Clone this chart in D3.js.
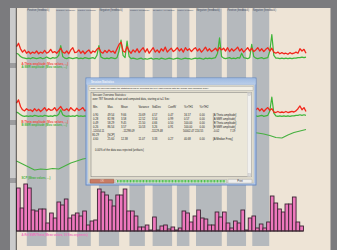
<!DOCTYPE html>
<html><head><meta charset="utf-8">
<script src="https://cdn.jsdelivr.net/npm/d3@7"></script>
<style>html,body{margin:0;padding:0;background:#7b7b7e;overflow:hidden}svg{display:block}</style>
</head><body><svg id="c" width="337" height="250"></svg>
<script>
// ---------- DATA ----------
const sessionSeconds = 787;
const bandStart = [28,107,165,224,307,370,436,488,572,641];
const bandEnd   = [82,144,202,279,349,423,470,558,624,687];
const bandLabel = ["Positive (feedback)","Negative (feedback)","Positive (feedback)","Negative (feedback)","Positive (feedback)","Negative (feedback)","Positive (feedback)","Negative (feedback)","Positive (feedback)","Negative (feedback)"];

const thetaA = [14,17,12,9,11,8,9.5,7.5,9,8, 10,7.5,9,8,10.5,8,9,11.5,8.5,9.5, 8,10,12.5,9,8,10,7.5,11,13,8.5, 9,11,8,10,7.5,9.5,11,8,10,9,
 11.5,13,9,8,10.5,8.5,11,9,10,8, 12,16,18,10,9,14,10,8,11,9, 12,8.5,11,13,9,12,8,10.5,13,9, 11,8.5,12,10,13.5,9,11,12.5,9.5,11,
 13,10,12,9,13,10.5,12,9.5,11.5,13, 10,12,9,11,13.5,10,12,9.5,11,12.5, 10,13,11,12.5,10,13,9.5,12,10,11.5, 13.5,10,12,9,11,13,10,12.5,9.5,11,
 13,10,12,9.5,11.5,13,10,12.5,9,8, 9,7.5,8.5,7.5,8,7,8.5,7.5,8,9, 8,12,10,11.5,8];
const smrA = [8,7,5,4,3.5,3,3.5,3,4,3.5, 3,3.5,4,3,3.5,4.5,3.5,3,4,3.5, 4,6,15,5,3.5,3,4,3.5,3,3.5, 4,3,3.5,3,4,3.5,3,3.5,4,3,
 6,15,4.5,3.5,3,3.5,3,4,3.5,3, 4,10,20,6,4,19,5,3,3.5,3, 2.5,3,3.5,2.5,3,2.5,3,3.5,2.5,3, 3,2.5,3.5,3,2.5,3,3.5,3,2.5,3,
 3.5,3,2.5,3,3.5,3,3,2.5,3,3.5, 3,3.5,3,2.5,3.5,3,3.5,3,3.5,4, 8,22,5,3.5,3,3.5,4,3,3.5,3, 4,3.5,8,4,3.5,3,4,16,5,3.5,
 3,3.5,4,3,3.5,4,10,25,6,3.5, 3.5,3,3.5,3,3.5,3,3.5,3,3.5,3.5, 4,4,4.5,4,4.5];
const thetaB = [15,18,12,9,8,10,8.5,9,7.5,10, 8,9.5,7.5,9,11,8,10,8.5,9,11, 8,10,12,9,8.5,10,8,11,9,8, 10.5,8.5,9.5,11,8,9.5,
 11,8,10,9, 11.5,13,9,8,10.5,8.5,11,9,10,8, 12,16,18,10,9,14,10,8,11,9, 12,8.5,11,13,9,12,8,10.5,13,9, 11,8.5,12,10,13.5,9,11,12.5,9.5,11,
 13,10,12,9,13,10.5,12,9.5,11.5,13, 10,12,9,11,13.5,10,12,9.5,11,12.5, 10,13,11,12.5,10,13,9.5,12,10,11.5, 13.5,10,12,9,11,13,10,12.5,9.5,
 9,10.5,8,10,7.5,9.5,11,8.5,10,7, 6.5,7.5,6.5,7,6.5,7.5,6.5,7,7.5,7, 8,10,12.5,9,11,7.5];
const smrB = [7,6,4.5,3.5,3,3.5,3,3.5,3,4, 3.5,3,3.5,3,4,3.5,3,3.5,3,4, 3.5,5,9,4.5,3.5,3,3.5,3,3.5,3, 4,3,3.5,3,3.5,3,
 3,3.5,4,3, 6,12,4.5,3.5,3,3.5,3,4,3.5,3, 4,8,16,6,4,15,5,3,3.5,3, 2.5,3,3.5,2.5,3,2.5,3,3.5,2.5,3, 3,2.5,3.5,3,2.5,3,3.5,3,2.5,3,
 3.5,3,2.5,3,3.5,3,3,2.5,3,3.5, 3,3.5,3,2.5,3.5,3,3.5,3,3.5,4, 8,18,5,3.5,3,3.5,4,3,3.5,3, 4,3.5,7,4,3.5,3,4,13,5,
 3.5,3,3.5,4,3,3.5,4,8,20.5,6, 3.5,3,3.5,3,3.5,3,3.5,3,3.5,3.5, 4,4,4.5,4,4.5,4];
const scp = [-11773,-11813,-11853,-11893,-11880,-11887,-11873,-11880,-11840,-11800,-11773,-11747,-11733,-11707,-11680,-11653,-11640,-11613,-11587,-11573,
 -11560,-11533,-11520,-11507,-11493,-11480,-11467,-11453,-11453,-11440,-11427,-11427,-11413,-11413,-11400,-11400,-11400,-11387,-11387,-11393,
 -11400,-11413,-11433,-11460,-11467,-11427,-11393,-11373,-11353];
const scpTicks = [-11400,-11600,-11800];
const relSmrTheta = [0.86,0.46,0.94,0.86,0.42,0.40,0.44,0.44,0.16,0.36, 0.26,0.58,0.52,0.64,0.26,0.32,0.36,0.30,0.40,0.12,
 0.20,0.22,0.84,0.78,0.72,0.62,0.50,0.72,0.72,0.84, 0.40,0.40,0.30,0.08,0.08,0.12,0.02,0.28,0.02,0.10,
 0.12,0.04,0.08,0.02,0.06,0.40,0.36,0.18,0.30,0.42, 0.26,0.24,0.12,0.12,0.38,0.28,0.38,0.16,0.06,0.20,
 0.16,0.42,0.02,0.26,0.30,0.06,0.14,0.06,0.18,0.70, 0.56,0.44,0.38,0.54,0.54,0.68,0.18,0.10];
const segmentSeconds = 10;

const statHeaders = ["Min.","Max.","Mean","Variance","StdDev","CoeffV","%>TH1","%>TH2"];
const statRows = [
 ["0.90","49.54","9.66","20.69","4.57","0.47","16.57","0.00","[A:Theta amplitude]"],
 ["0.28","82.98","3.58","12.52","3.54","0.99","0.57","0.00","[A:SMR amplitude]"],
 ["0.49","58.29","9.45","21.50","4.66","0.50","100.00","0.00","[B:Theta amplitude]"],
 ["0.26","86.54","3.57","10.53","3.26","0.91","100.00","0.00","[B:SMR amplitude]"]];
const scpStats = ["-12054.11","-11298.09","-11129.48","50002.47 224.55","-0.02","7.19"];
const scpStats2 = ["80.29","[SCP]"];
const medianRow = ["4.60","25.60","12.38","11.07","3.33","0.27","40.68","0.00","[A:Median Freq.]"];

// ---------- DRAW ----------
const svg = d3.select("#c");
const F = "'Liberation Sans', Arial, sans-serif";
svg.append("rect").attr("width",337).attr("height",250).attr("fill","#7b7b7e");
svg.append("rect").attr("x",10).attr("y",8).attr("width",6).attr("height",242).attr("fill","#cbcbcb");
svg.append("rect").attr("x",16).attr("y",8).attr("width",314.5).attr("height",242).attr("fill","#eee4d6");

const x = d3.scaleLinear().domain([0, sessionSeconds]).range([16.5, 306]);

// bands
const bands = bandStart.map((s,i)=>({s, e: bandEnd[i], l: bandLabel[i], next: i<bandStart.length-1 ? bandStart[i+1] : null}));
svg.append("g").selectAll("rect").data(bands).join("rect")
  .attr("x", d=>x(d.s)).attr("width", d=>x(d.e)-x(d.s))
  .attr("y", 8.5).attr("height", 237.5).attr("fill", "#b5b9bd");
svg.append("g").selectAll("text").data(bands).join("text")
  .attr("x", d=>x(d.s)+0.5).attr("y", 11.3).text(d=>d.l)
  .attr("font-family",F).attr("fill","#454c60")
  .attr("font-size", d=> d.next===null ? 2.6 : Math.min(2.6, (x(d.next)-x(d.s)-1.6)/9.3));

// left strip separators
[[63,5],[120,5],[178,5]].forEach(([y,h])=>svg.append("rect").attr("x",10).attr("y",y).attr("width",6).attr("height",h).attr("fill","#9c9c9e"));

// scales
const yA = d3.scaleLinear().domain([0,50]).range([62,7]);
const yB = d3.scaleLinear().domain([0,45]).range([119.7,70.2]);
const yS = d3.scaleLinear().domain([-11400,-11800]).range([133,163]);
const yR = d3.scaleLinear().domain([0,1]).range([231,181]);

const tOf = (n)=> (i)=> i*sessionSeconds/(n-1);
function drawLine(data, y, color, w){
  const t = tOf(data.length);
  svg.append("path").datum(data)
    .attr("d", d3.line().x((d,i)=>x(t(i))).y(d=>y(d)))
    .attr("fill","none").attr("stroke",color).attr("stroke-width",w).attr("stroke-linejoin","round");
}
drawLine(smrA, yA, "#3fb53a", 1.2);
drawLine(thetaA, yA, "#f2261b", 1.3);
drawLine(smrB, yB, "#3fb53a", 1.2);
drawLine(thetaB, yB, "#f2261b", 1.3);
drawLine(scp, yS, "#46b040", 1.1);

// bars
const bw = x(segmentSeconds)-x(0);
svg.append("g").selectAll("rect").data(relSmrTheta).join("rect")
  .attr("x",(d,i)=>x(i*segmentSeconds)).attr("width",bw)
  .attr("y",d=>yR(d)).attr("height",d=>yR(0)-yR(d))
  .attr("fill","#ee78bd").attr("stroke","#3a2432").attr("stroke-width",0.9);
svg.append("line").attr("x1",16).attr("x2",x(relSmrTheta.length*segmentSeconds)).attr("y1",yR(0)).attr("y2",yR(0))
  .attr("stroke","#3a2a33").attr("stroke-width",1);

// legends
const legends = [
  ["A:Theta amplitude (Mov. values, ...)", 65, "#ef4a40"],
  ["A:SMR amplitude (Mov. values, ...)", 68.4, "#45b23e"],
  ["B:Theta amplitude (Mov. values, ...)", 122.7, "#ef4a40"],
  ["B:SMR amplitude (Mov. values, ...)", 126.1, "#45b23e"],
  ["SCP (Mean values, ...)", 179.2, "#45b23e"],
  ["A:Rel SMR/Theta (Mean values, 10 Sec-segments)", 236.2, "#ee6fbf"]];
svg.append("g").selectAll("text").data(legends).join("text")
  .attr("x",21.5).attr("y",d=>d[1]).text(d=>d[0]).attr("fill",d=>d[2])
  .attr("font-family",F).attr("font-size",2.8).attr("font-weight","bold");

// axes (ticks in left strip)
const clip = svg.append("clipPath").attr("id","strip");
clip.append("rect").attr("x",10).attr("y",8).attr("width",8).attr("height",242);
function ax(a){
  const g = svg.append("g").attr("transform","translate(16.3,0)").attr("clip-path","url(#strip)").call(a);
  g.select(".domain").remove();
  g.selectAll("line").attr("stroke","#555").attr("stroke-width",0.45);
  g.selectAll("text").attr("font-family",F).attr("font-size",2).attr("font-weight","bold").attr("fill","#333");
  return g;
}
ax(d3.axisLeft(yA).ticks(12).tickSize(1.4).tickFormat(""));
ax(d3.axisLeft(yB).ticks(10).tickSize(1.4).tickFormat(""));
ax(d3.axisLeft(yS).tickValues(scpTicks).tickSize(0.8).tickPadding(0.3).tickFormat(d=>d.toFixed(2)));
ax(d3.axisLeft(yR).ticks(10).tickSize(1.4).tickFormat(""));
svg.append("line").attr("x1",16.3).attr("x2",16.3).attr("y1",8).attr("y2",250).attr("stroke","#262626").attr("stroke-width",0.8);

// ---------- DIALOG ----------
const dlg = svg.append("g");
const defs = svg.append("defs");
const grad = defs.append("linearGradient").attr("id","tb").attr("x1",0).attr("x2",0).attr("y1",0).attr("y2",1);
grad.append("stop").attr("offset",0).attr("stop-color","#9fbbe2");
grad.append("stop").attr("offset",1).attr("stop-color","#b9cde9");
dlg.append("rect").attr("x",86).attr("y",78).attr("width",170).attr("height",107)
  .attr("fill","#b8cbe6").attr("stroke","#5f86c4").attr("stroke-width",0.9);
dlg.append("rect").attr("x",86.4).attr("y",78.4).attr("width",169.2).attr("height",6).attr("fill","url(#tb)");
dlg.append("text").attr("x",91).attr("y",82.5).text("Session Statistics")
  .attr("font-family",F).attr("font-size",2.7).attr("font-weight","bold").attr("fill","#f4f7fc");
dlg.append("rect").attr("x",88).attr("y",85).attr("width",166).attr("height",98).attr("fill","#e0dccd").attr("stroke","#9aa7bb").attr("stroke-width",0.3);
// note box
dlg.append("rect").attr("x",89).attr("y",86.6).attr("width",164).attr("height",3.6).attr("fill","#f3f0e6").attr("stroke","#9b9b9b").attr("stroke-width",0.35);
dlg.append("text").attr("x",90.5).attr("y",89.4).text("Note: you can copy/paste the statistics below by selecting the text, right-clicking with the mouse and choosing 'Copy'.")
  .attr("font-family",F).attr("font-size",2.3).attr("fill","#222");
// text area
dlg.append("rect").attr("x",91).attr("y",92.3).attr("width",160.5).attr("height",84.5).attr("fill","#ebe7d9").attr("stroke","#6e6e6e").attr("stroke-width",0.45);
dlg.append("rect").attr("x",247.6).attr("y",92.6).attr("width",3.6).attr("height",84).attr("fill","#f1f1ef").attr("stroke","#c4c4c4").attr("stroke-width",0.3);
dlg.append("rect").attr("x",248).attr("y",93).attr("width",2.8).attr("height",2.6).attr("fill","#dcdcdc").attr("stroke","#aaa").attr("stroke-width",0.25);
dlg.append("rect").attr("x",248).attr("y",173.6).attr("width",2.8).attr("height",2.6).attr("fill","#dcdcdc").attr("stroke","#aaa").attr("stroke-width",0.25);

const tx = dlg.append("g").attr("font-family",F).attr("font-size",2.7).attr("fill","#1e1e1e");
tx.append("text").attr("x",92.5).attr("y",96.4).text("Session Overview Statistics:");
tx.append("text").attr("x",92.5).attr("y",100.4).text(" over 787 Seconds of raw and computed data, starting at t=1 Sec:");
const colX = [93,107.5,121,138.5,152,168,184,199.5,213];
tx.selectAll(".h").data(statHeaders).join("text").attr("class","h")
  .attr("x",(d,i)=>colX[i]).attr("y",108.4).text(d=>d);
statRows.forEach((row,r)=>{
  tx.append("g").selectAll("text").data(row).join("text")
    .attr("x",(d,i)=>colX[i]).attr("y",115.9+4*r).text(d=>d);
});
const scpX = [92.3,122.5,151,183,213,230];
tx.append("g").selectAll("text").data(scpStats).join("text")
  .attr("x",(d,i)=>scpX[i]).attr("y",131.9).text(d=>d);
tx.append("g").selectAll("text").data(scpStats2).join("text")
  .attr("x",(d,i)=>[92.3,107.5][i]).attr("y",135.9).text(d=>d);
tx.append("g").selectAll("text").data(medianRow).join("text")
  .attr("x",(d,i)=>colX[i]).attr("y",140).text(d=>d);
tx.append("text").attr("x",95).attr("y",151.4).text("0.00% of the data was rejected (artifacts)");

// buttons
dlg.append("rect").attr("x",90).attr("y",179.2).attr("width",24).attr("height",4).attr("rx",0.6)
  .attr("fill","#c97b64").attr("stroke","#7d4a3c").attr("stroke-width",0.4);
dlg.append("text").attr("x",102).attr("y",182.3).attr("text-anchor","middle").text("OK")
  .attr("font-family",F).attr("font-size",2.6).attr("fill","#f3d9cf");
dlg.append("rect").attr("x",116).attr("y",179.5).attr("width",110.5).attr("height",3.6)
  .attr("fill","#ececec").attr("stroke","#8e8e8e").attr("stroke-width",0.35);
dlg.append("line").attr("x1",117).attr("x2",225.5).attr("y1",181.3).attr("y2",181.3)
  .attr("stroke","#3dbb3a").attr("stroke-width",2.6).attr("stroke-dasharray","0.9,0.55");
dlg.append("rect").attr("x",228).attr("y",179.3).attr("width",24).attr("height",3.9).attr("rx",0.5)
  .attr("fill","#efefee").attr("stroke","#8a8a8a").attr("stroke-width",0.35);
dlg.append("text").attr("x",240).attr("y",182.3).attr("text-anchor","middle").text("Print")
  .attr("font-family",F).attr("font-size",2.6).attr("fill","#333");
</script></body></html>
